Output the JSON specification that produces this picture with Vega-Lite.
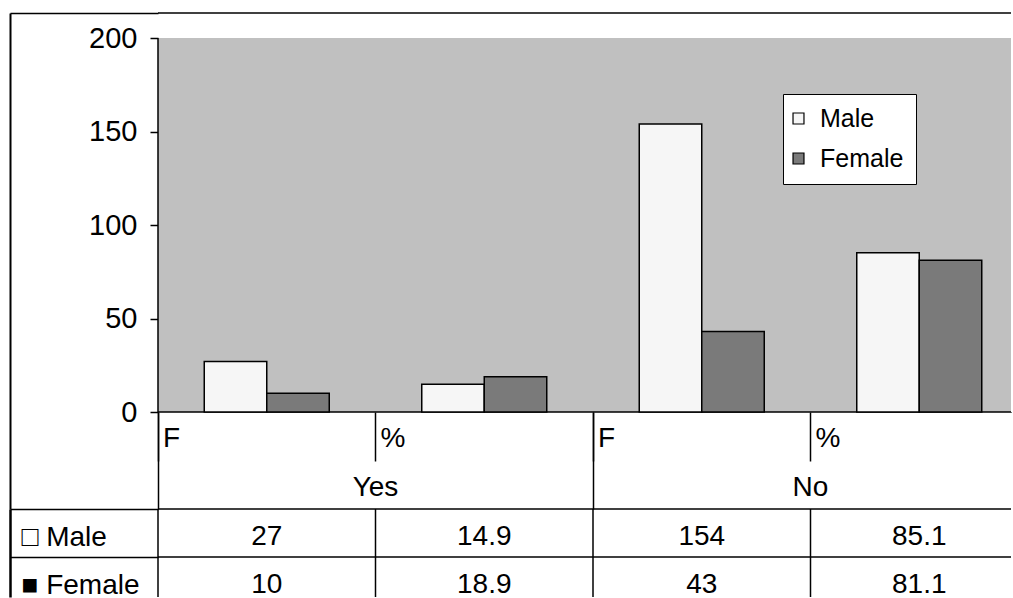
{
  "$schema": "https://vega.github.io/schema/vega-lite/v6.json",
  "padding": {"left": 9, "top": 12, "right": 0, "bottom": 0},
  "background": "white",
  "bounds": "flush",
  "spacing": 0,
  "config": {
    "font": "Liberation Sans",
    "view": {"stroke": null},
    "axis": {"grid": false, "title": null, "labelColor": "black", "tickColor": "black", "domainColor": "black", "labelFontSize": 28, "labelFont": "Liberation Sans", "labelAngle": 0},
    "text": {"color": "black"}
  },
  "datasets": {
    "bars": [
      {"col": "Yes F", "sex": "Male", "value": 27},
      {"col": "Yes F", "sex": "Female", "value": 10},
      {"col": "Yes %", "sex": "Male", "value": 14.9},
      {"col": "Yes %", "sex": "Female", "value": 18.9},
      {"col": "No F", "sex": "Male", "value": 154},
      {"col": "No F", "sex": "Female", "value": 43},
      {"col": "No %", "sex": "Male", "value": 85.1},
      {"col": "No %", "sex": "Female", "value": 81.1}
    ],
    "groups": [{"group": "Yes"}, {"group": "No"}],
    "cols": [{"col": "Yes F"}, {"col": "Yes %"}, {"col": "No F"}, {"col": "No %"}],
    "rows": [{"sex": "Male"}, {"sex": "Female"}]
  },
  "vconcat": [
    {
      "width": 853,
      "height": 496,
      "resolve": {"scale": {"x": "independent"}, "axis": {"x": "independent", "y": "independent"}},
      "layer": [
        {
          "data": {"values": [{}]},
          "mark": {"type": "rect", "fill": "#c0c0c0", "stroke": "black", "strokeWidth": 1.5, "strokeDash": [0, 1227, 1227]},
          "encoding": {
            "y": {"datum": 0, "type": "quantitative", "scale": {"domain": [-51.87, 213.37], "nice": false, "zero": false},
              "axis": {"orient": "left", "values": [0, 50, 100, 150, 200], "tickSize": 8, "tickWidth": 1.5, "labelPadding": 13, "labelFontSize": 29, "domain": false}},
            "y2": {"datum": 200}
          }
        },
        {
          "data": {"name": "bars"},
          "mark": {"type": "bar", "stroke": "black", "strokeWidth": 1.5},
          "encoding": {
            "x": {"field": "col", "type": "nominal",
              "scale": {"domain": ["Yes F", "Yes %", "No F", "No %"], "range": [0, 870], "paddingInner": 0, "paddingOuter": 0},
              "axis": {"orient": "bottom", "offset": -97, "bandPosition": 0, "tickSize": 49, "tickWidth": 1.5, "domain": false,
                "labelAlign": "left", "labelBaseline": "alphabetic", "labelOffset": -103.75, "labelPadding": -15,
                "labelExpr": "split(datum.value, ' ')[1]"}},
            "xOffset": {"field": "sex", "type": "nominal", "scale": {"domain": ["Male", "Female"], "paddingInner": 0, "paddingOuter": 0.74}},
            "y": {"field": "value", "type": "quantitative",
              "axis": {"orient": "left", "offset": 148, "domain": true, "domainWidth": 2, "ticks": false, "labels": false}},
            "fill": {"field": "sex", "type": "nominal",
              "scale": {"domain": ["Male", "Female"], "range": ["#f6f6f6", "#7a7a7a"]},
              "legend": {"orient": "none", "legendX": 625, "legendY": 81, "title": null, "strokeColor": "black", "fillColor": "white",
                "padding": 12, "symbolType": "square", "symbolSize": 120, "symbolStrokeColor": "black", "symbolStrokeWidth": 1.2,
                "symbolOffset": -9, "labelFontSize": 25, "labelOffset": 9, "rowPadding": 14, "labelColor": "black"}}
          }
        },
        {
          "data": {"values": [{}]},
          "mark": {"type": "rule", "strokeWidth": 1.5, "color": "black"},
          "encoding": {
            "y": {"datum": 213.37, "type": "quantitative",
              "axis": {"orient": "left", "values": [213.37], "tickSize": 148, "tickWidth": 1.5, "labels": false, "domain": false}}
          }
        },
        {
          "data": {"name": "groups"},
          "mark": {"type": "rule", "opacity": 0},
          "encoding": {
            "x": {"field": "group", "type": "nominal",
              "scale": {"domain": ["Yes", "No"], "range": [0, 870], "paddingInner": 0, "paddingOuter": 0},
              "axis": {"orient": "bottom", "offset": -97, "bandPosition": 0, "tickSize": 97, "tickWidth": 1.5, "domain": false,
                "labelAlign": "center", "labelBaseline": "alphabetic", "labelOffset": 0, "labelPadding": -14}}
          }
        }
      ]
    },
    {
      "width": 853,
      "height": 88,
      "resolve": {"scale": {"y": "independent"}, "axis": {"y": "independent"}},
      "layer": [
        {
          "data": {"name": "bars"},
          "mark": {"type": "text", "fontSize": 28, "baseline": "alphabetic", "dy": 12},
          "encoding": {
            "x": {"field": "col", "type": "nominal",
              "scale": {"domain": ["Yes F", "Yes %", "No F", "No %"], "range": [0, 870], "paddingInner": 0, "paddingOuter": 0},
              "axis": null},
            "y": {"field": "sex", "type": "nominal",
              "scale": {"domain": ["Male", "Female"], "range": [0, 96], "paddingInner": 0, "paddingOuter": 0},
              "axis": {"orient": "left", "tickOffset": -24, "tickSize": 148, "tickWidth": 1.5, "domain": false,
                "labelAlign": "left", "labelBaseline": "alphabetic", "labelPadding": -11, "labelOffset": 36,
                "labelExpr": "datum.value == 'Male' ? '□ Male' : '■ Female'"}},
            "text": {"field": "value", "type": "nominal"}
          }
        },
        {
          "data": {"name": "rows"},
          "mark": {"type": "rule", "strokeWidth": 1.5, "color": "black"},
          "encoding": {
            "y": {"field": "sex", "type": "nominal", "bandPosition": 0,
              "scale": {"domain": ["Male", "Female"], "range": [0, 96], "paddingInner": 0, "paddingOuter": 0},
              "axis": null}
          }
        },
        {
          "data": {"name": "cols"},
          "mark": {"type": "rule", "strokeWidth": 1.5, "color": "black"},
          "encoding": {
            "x": {"field": "col", "type": "nominal", "bandPosition": 0, "axis": null}
          }
        },
        {
          "data": {"values": [{}]},
          "mark": {"type": "rule", "opacity": 0},
          "encoding": {
            "y": {"datum": 0, "type": "quantitative", "scale": {"domain": [0, 1]},
              "axis": {"orient": "left", "offset": 148, "domain": true, "domainWidth": 2.5, "ticks": false, "labels": false}}
          }
        }
      ]
    }
  ]
}
